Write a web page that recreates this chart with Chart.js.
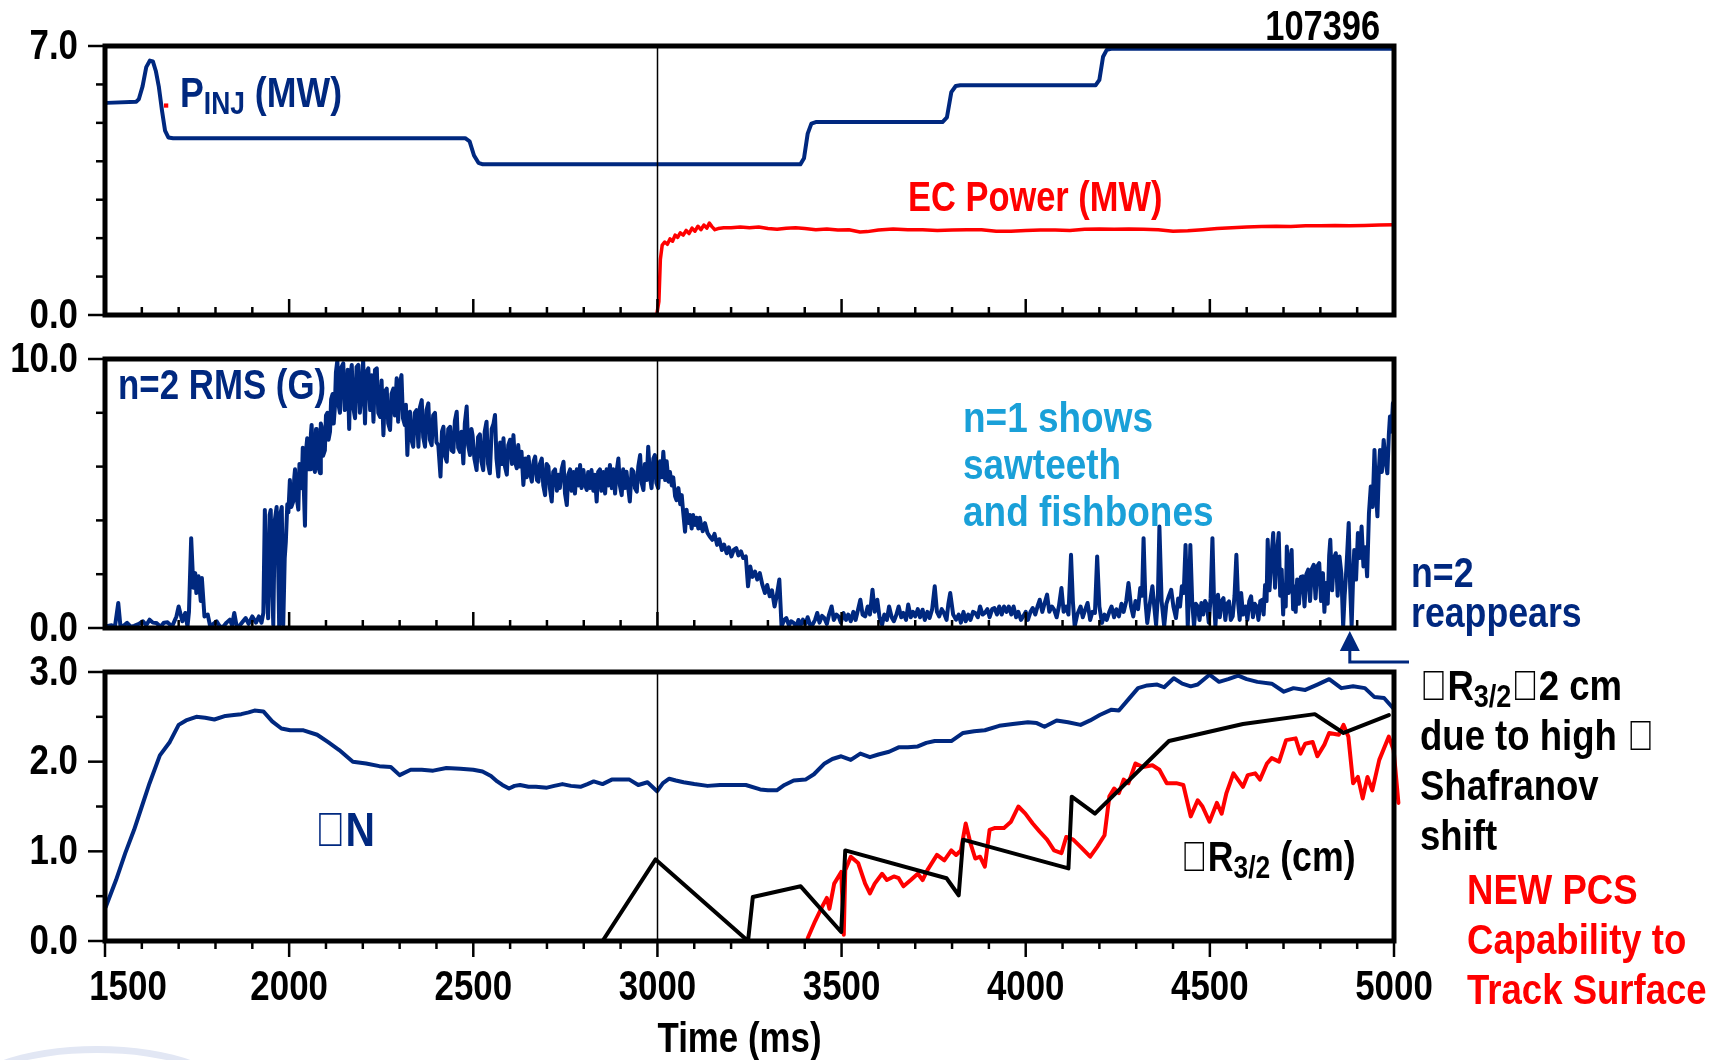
<!DOCTYPE html>
<html>
<head>
<meta charset="utf-8">
<title>107396</title>
<script src="https://cdn.jsdelivr.net/npm/chart.js"></script>
<style>
  body { margin: 0; background: #fff; }
  #wrap { position: relative; width: 1727px; height: 1060px; overflow: hidden; background: #fff; }
  #wrap canvas { position: absolute; left: 0; top: 0; }
  .note {
    position: absolute;
    font: bold 42px 'Liberation Sans', Arial, sans-serif;
    line-height: 42px;
    white-space: nowrap;
    transform: scaleX(0.85);
    transform-origin: left top;
  }
  .note sub { font-size: 0.74em; vertical-align: -0.24em; line-height: 0; }
  .navy { color: #00287f; }
  .red { color: #ff0000; }
  .cyan { color: #1aa0d8; }
  .swoosh {
    position: absolute; left: -40px; top: 1046px; width: 260px; height: 90px;
    border: 7px solid #e2e7f4; border-radius: 50%;
  }
</style>
</head>
<body>
<div id="wrap">
  <canvas id="pinjChart" width="1727" height="1060"></canvas>
  <canvas id="rmsChart" width="1727" height="1060"></canvas>
  <canvas id="betaChart" width="1727" height="1060"></canvas>
  <div class="swoosh"></div>

  <div class="note" style="right:347px;top:5px;transform-origin:right top;transform:scaleX(0.82)">107396</div>
  <div class="note navy" style="left:180px;top:72px">P<sub>INJ</sub> (MW)</div>
  <div class="note red" style="left:908px;top:176px;transform:scaleX(0.82)">EC Power (MW)</div>

  <div class="note navy" style="left:118px;top:364px;transform:scaleX(0.83)">n=2 RMS (G)</div>
  <div class="note cyan" style="left:963px;top:394px;line-height:47px;transform:scaleX(0.88)">n=1 shows<br>sawteeth<br>and fishbones</div>
  <div class="note navy" style="left:1411px;top:553px;line-height:40px">n=2<br>reappears</div>

  <div class="note navy" style="left:315px;top:806px;font-size:48px;line-height:48px">&#xF062;N</div>
  <div class="note" style="left:1181px;top:836px">&#xF044;R<sub>3/2</sub> (cm)</div>
  <div class="note" style="left:1420px;top:661px;line-height:50px;transform:scaleX(0.87)">&#xF044;R<sub>3/2</sub>&#xF0BB;2 cm<br>due to high &#xF062;<br>Shafranov<br>shift</div>
  <div class="note red" style="left:1467px;top:865px;line-height:50px;transform:scaleX(0.87)">NEW PCS<br>Capability to<br>Track Surface</div>
</div>

<script>
const FONT = "'Liberation Sans', Arial, sans-serif";
const NAVY = '#00287f';
const RED = '#ff0000';
const SQUEEZE = 0.83;

// axis tick labels
const timeTicks = [1500, 2000, 2500, 3000, 3500, 4000, 4500, 5000];
const pinjTicks = [0, 7];
const rmsTicks = [0, 10];
const betaTicks = [0, 1, 2, 3];

// time (ms), value pairs for each trace

// neutral beam injected power (MW)
const pinj = [
  [1500, 5.50], [1505, 5.52], [1585, 5.55], [1592, 5.62], [1602, 5.95], [1612, 6.45], [1622, 6.62],
  [1630, 6.60], [1638, 6.35], [1646, 5.95], [1655, 5.30], [1663, 4.80], [1672, 4.62], [1685, 4.60],
  [2478, 4.60], [2490, 4.52], [2502, 4.15], [2514, 3.96], [2526, 3.92],
  [3388, 3.92], [3398, 4.08], [3408, 4.72], [3418, 4.98], [3430, 5.02],
  [3774, 5.02], [3786, 5.14], [3798, 5.80], [3810, 5.96], [3822, 5.98],
  [4190, 5.98], [4200, 6.12], [4210, 6.72], [4220, 6.90], [4232, 6.93], [5000, 6.93]
];

// electron cyclotron power (MW)
const ecPower = [
  [1500, 0], [2998, 0], [3004, 0.35], [3008, 1.45], [3013, 1.82], [3020, 1.90], [3027, 1.84],
  [3034, 1.98], [3041, 1.92], [3048, 2.08], [3055, 2.02], [3062, 2.14], [3070, 2.08], [3078, 2.20],
  [3086, 2.12], [3094, 2.26], [3102, 2.18], [3110, 2.31], [3118, 2.22], [3126, 2.34], [3134, 2.26],
  [3141, 2.39], [3148, 2.30], [3156, 2.22], [3165, 2.25], [3180, 2.27], [3200, 2.27], [3225, 2.29],
  [3250, 2.27], [3275, 2.29], [3300, 2.25], [3325, 2.23], [3350, 2.26], [3375, 2.27], [3400, 2.25],
  [3430, 2.22], [3460, 2.24], [3490, 2.21], [3520, 2.22], [3550, 2.16], [3570, 2.17], [3600, 2.21],
  [3640, 2.24], [3680, 2.22], [3720, 2.22], [3760, 2.20], [3800, 2.21], [3840, 2.22], [3880, 2.22],
  [3920, 2.18], [3960, 2.18], [4000, 2.20], [4040, 2.21], [4080, 2.21], [4120, 2.20], [4160, 2.23],
  [4200, 2.24], [4240, 2.23], [4280, 2.24], [4320, 2.23], [4360, 2.22], [4400, 2.18], [4440, 2.19],
  [4480, 2.22], [4520, 2.25], [4560, 2.27], [4600, 2.29], [4640, 2.30], [4680, 2.31], [4720, 2.30],
  [4760, 2.32], [4800, 2.32], [4840, 2.33], [4880, 2.32], [4920, 2.33], [4960, 2.34], [5000, 2.35]
];
const ecStray = [[1666, 5.45]];

// n=2 RMS amplitude (G)
const n2Rms = [
  [1500, 0.05], [1518, 0.10], [1527, 0.05], [1536, 0.93], [1542, 0.05], [1552, 0.10], [1560, 0.19],
  [1570, 0.05], [1579, 0.08], [1592, 0.15], [1603, 0.25], [1612, 0.10], [1621, 0.31], [1630, 0.20],
  [1639, 0.19], [1651, 0.05], [1660, 0.20], [1670, 0.21], [1682, 0.05], [1694, 0.43], [1700, 0.80],
  [1710, 0.25], [1718, 0.56], [1724, 0.05], [1728, 0.60], [1734, 3.34], [1740, 1.50], [1745, 2.04],
  [1748, 1.30], [1754, 1.92], [1760, 1.00], [1763, 1.86], [1770, 0.43], [1779, 0.50], [1785, 0.10],
  [1791, 0.12], [1803, 0.25], [1812, 0.05], [1821, 0.05], [1830, 0.20], [1839, 0.31], [1845, 0.10],
  [1851, 0.56], [1857, 0.10], [1863, 0.05], [1872, 0.20], [1882, 0.37], [1890, 0.15], [1900, 0.43],
  [1910, 0.20], [1918, 0.43], [1925, 0.20], [1930, 0.56],
  // onset burst and saturated phase
  [1934, 4.39], [1938, 2.00], [1943, 0.36], [1947, 4.20], [1950, 4.39], [1954, 1.50], [1957, 0.11],
  [1961, 4.00], [1966, 4.50], [1970, 2.50], [1973, 0.00], [1977, 4.30], [1980, 4.50], [1984, 0.11],
  [1988, 2.60], [1991, 3.20], [1995, 4.60], [1998, 4.30], [2002, 5.50], [2006, 4.50], [2011, 4.70],
  [2014, 5.60], [2016, 5.90], [2020, 4.90], [2025, 4.40], [2028, 6.10], [2030, 5.90], [2034, 5.20],
  [2037, 6.70], [2040, 5.10], [2043, 3.80], [2046, 6.60], [2049, 7.05], [2053, 5.90], [2057, 5.90],
  [2059, 7.20], [2061, 7.55], [2065, 6.20], [2070, 5.80], [2073, 7.40], [2075, 7.30], [2079, 6.00],
  [2084, 5.75], [2086, 7.60], [2088, 7.50], [2092, 6.40], [2097, 6.60], [2100, 7.90], [2104, 8.00],
  [2107, 7.00], [2111, 7.30], [2114, 8.50], [2118, 8.70], [2121, 7.60], [2124, 8.17], [2127, 9.50],
  [2131, 9.96], [2134, 8.30], [2138, 8.00], [2142, 9.70], [2147, 9.84], [2151, 8.10], [2156, 8.35],
  [2159, 9.60], [2163, 7.40], [2166, 9.30], [2170, 9.78], [2174, 8.20], [2179, 7.80], [2183, 9.70],
  [2188, 9.78], [2192, 8.00], [2197, 8.80], [2201, 9.96], [2206, 7.60], [2210, 9.50], [2215, 9.65],
  [2220, 8.10], [2224, 9.40], [2229, 7.67], [2233, 9.60], [2238, 9.65], [2242, 8.00], [2247, 7.85],
  [2251, 9.20], [2256, 7.17], [2260, 8.80], [2265, 8.90], [2269, 7.60], [2274, 7.36], [2278, 8.70],
  [2283, 8.90], [2287, 7.90], [2292, 9.28], [2296, 7.67], [2300, 9.00], [2305, 9.40], [2309, 7.80],
  [2314, 7.55], [2317, 8.30], [2321, 6.43], [2325, 7.90], [2328, 8.04], [2332, 7.00], [2337, 6.74],
  [2341, 8.00], [2346, 8.10], [2351, 6.74], [2355, 8.20], [2360, 8.47], [2364, 7.10], [2369, 6.74],
  [2373, 8.10], [2378, 8.35], [2382, 7.00], [2387, 6.80], [2391, 7.90], [2396, 8.00], [2400, 6.90],
  [2405, 6.80], [2411, 5.63], [2415, 7.30], [2419, 7.48], [2423, 6.40], [2428, 6.18], [2432, 7.40],
  [2437, 7.48], [2441, 6.60], [2446, 6.55], [2450, 7.70], [2455, 8.04], [2459, 6.70], [2464, 6.55],
  [2468, 7.30], [2473, 6.12], [2477, 7.60], [2482, 8.23], [2486, 6.80], [2491, 6.43], [2495, 7.40],
  [2498, 7.17], [2503, 6.30], [2509, 5.87], [2513, 7.10], [2518, 7.20], [2522, 6.20], [2527, 5.87],
  [2531, 7.30], [2536, 7.67], [2540, 6.10], [2545, 5.75], [2550, 7.40], [2555, 7.60], [2559, 7.92],
  [2563, 6.30], [2568, 5.63], [2573, 6.90], [2578, 6.10], [2582, 7.05], [2586, 6.00], [2591, 5.70],
  [2595, 6.80], [2600, 7.00], [2605, 6.10], [2609, 7.17], [2613, 6.20], [2618, 5.94], [2622, 6.80],
  [2627, 6.00], [2631, 6.55], [2636, 5.32], [2641, 6.30], [2645, 5.60], [2650, 6.37], [2655, 5.70],
  [2659, 5.44], [2664, 6.20], [2668, 6.37], [2673, 5.50], [2677, 5.44], [2681, 6.10], [2686, 6.30],
  [2690, 5.30], [2695, 4.94], [2699, 6.10], [2704, 6.00], [2708, 5.20], [2713, 4.70], [2717, 5.80],
  [2722, 5.90], [2727, 5.10], [2731, 5.70], [2735, 5.20], [2740, 5.90], [2745, 6.18], [2749, 5.00],
  [2754, 4.57], [2758, 5.70], [2763, 5.90], [2767, 5.10], [2772, 5.80], [2776, 5.00], [2781, 5.90],
  [2786, 5.30], [2790, 6.06], [2794, 5.20], [2799, 5.87], [2804, 5.30], [2808, 5.13], [2812, 5.80],
  [2817, 5.20], [2821, 5.87], [2826, 5.10], [2830, 5.70], [2835, 4.70], [2839, 5.80], [2844, 5.90],
  [2848, 5.10], [2853, 5.80], [2858, 5.00], [2862, 5.90], [2867, 5.30], [2871, 6.06], [2876, 5.20],
  [2880, 5.90], [2885, 5.00], [2889, 5.80], [2894, 6.30], [2898, 5.30], [2903, 4.94], [2907, 5.90],
  [2912, 5.20], [2916, 5.81], [2920, 5.30], [2925, 4.70], [2930, 5.90], [2935, 5.81], [2939, 5.20],
  [2944, 5.07], [2948, 6.00], [2953, 6.43], [2957, 5.40], [2962, 5.13], [2966, 6.10], [2971, 5.50],
  [2975, 6.74], [2980, 5.60], [2984, 5.20], [2989, 6.30], [2993, 6.43], [2997, 5.40], [3002, 5.20],
  [3007, 6.20], [3012, 5.60], [3016, 6.55], [3021, 5.50], [3025, 6.20], [3030, 5.44], [3034, 5.80],
  [3039, 5.30], [3043, 5.60], [3048, 4.90], [3052, 4.75], [3057, 5.20], [3062, 4.60], [3066, 4.94],
  [3070, 4.30], [3075, 3.58], [3079, 4.40], [3084, 3.90], [3088, 4.20], [3093, 3.70], [3097, 4.20],
  [3102, 3.83], [3106, 4.10], [3111, 3.70], [3115, 4.10], [3119, 3.80], [3123, 3.60], [3129, 3.90],
  // decay once the EC heating is on
  [3136, 3.53], [3142, 3.40], [3149, 3.28], [3155, 3.50], [3162, 3.09], [3168, 3.30], [3175, 2.90],
  [3181, 3.10], [3188, 2.78], [3194, 3.00], [3201, 2.66], [3207, 2.90], [3214, 2.97], [3220, 2.70],
  [3227, 2.85], [3233, 2.60], [3240, 2.66], [3246, 1.55], [3252, 2.29], [3258, 1.90], [3265, 2.10],
  [3271, 1.80], [3278, 2.04], [3285, 1.60], [3292, 1.30], [3298, 1.60], [3305, 1.18], [3311, 1.40],
  [3318, 0.80], [3324, 1.20], [3331, 1.80],
  // suppressed phase
  [3337, 0.06], [3344, 0.30], [3350, 0.37], [3357, 0.10], [3363, 0.25], [3370, 0.19], [3377, 0.05],
  [3383, 0.30], [3389, 0.10], [3395, 0.31], [3402, 0.15], [3408, 0.40], [3415, 0.10], [3421, 0.12],
  [3428, 0.30], [3434, 0.56], [3440, 0.20], [3447, 0.45], [3453, 0.37], [3460, 0.15], [3466, 0.50],
  [3473, 0.80], [3479, 0.30], [3486, 0.50], [3492, 0.43], [3498, 0.20], [3505, 0.56], [3512, 0.30],
  [3518, 0.50], [3525, 0.25], [3532, 0.60], [3538, 0.30], [3545, 0.70], [3551, 1.05], [3557, 0.50],
  [3564, 0.43], [3571, 0.80], [3577, 0.50], [3584, 1.42], [3590, 0.60], [3597, 1.05], [3603, 0.40],
  [3610, 0.12], [3616, 0.50], [3623, 0.30], [3629, 0.80], [3636, 0.40], [3642, 0.25], [3649, 0.50],
  [3655, 0.80], [3662, 0.40], [3668, 0.56], [3675, 0.30], [3681, 0.87], [3688, 0.40], [3694, 0.60],
  [3700, 0.43], [3707, 0.70], [3713, 0.40], [3720, 0.68], [3726, 0.30], [3733, 0.60], [3739, 0.37],
  [3746, 0.70], [3753, 1.55], [3759, 0.60], [3765, 0.43], [3772, 0.70], [3778, 0.56], [3785, 0.30],
  [3790, 0.90], [3795, 1.30], [3803, 0.50], [3811, 0.31], [3818, 0.50], [3824, 0.20], [3831, 0.60],
  [3837, 0.25], [3844, 0.50], [3850, 0.30], [3857, 0.60], [3863, 0.56], [3870, 0.40], [3876, 0.80],
  [3883, 0.50], [3889, 0.56], [3896, 0.70], [3902, 0.40], [3909, 0.70], [3915, 0.74], [3922, 0.50],
  [3928, 0.80], [3935, 0.50], [3941, 0.80], [3948, 0.60], [3954, 0.80], [3961, 0.50], [3967, 0.80],
  [3974, 0.40], [3980, 0.60], [3987, 0.30], [3993, 0.43], [4000, 0.60], [4006, 0.30], [4013, 0.60],
  [4019, 0.74], [4026, 0.50], [4032, 0.80], [4038, 1.05], [4045, 0.60], [4051, 0.90], [4058, 1.24],
  [4064, 0.60], [4071, 0.80], [4077, 0.68], [4084, 0.40], [4090, 0.80], [4097, 1.49], [4103, 0.60],
  [4110, 0.80], [4116, 0.50], [4123, 2.72], [4128, 1.00], [4133, 0.06], [4140, 0.50], [4149, 0.80],
  [4155, 0.40], [4162, 0.70], [4168, 0.93], [4175, 0.30], [4181, 0.60], [4188, 0.56], [4194, 2.66],
  [4200, 0.80], [4207, 0.19], [4214, 0.50], [4220, 0.30], [4227, 0.60], [4233, 0.80], [4240, 0.40],
  [4246, 0.70], [4253, 0.43], [4260, 0.90], [4266, 0.60], [4273, 1.00], [4279, 1.67], [4286, 0.80],
  [4292, 0.43], [4298, 1.00], [4305, 0.70], [4311, 1.49], [4316, 1.20], [4320, 3.34], [4325, 1.00],
  [4330, 0.19], [4337, 0.90], [4344, 1.55], [4349, 0.80], [4354, 0.12], [4359, 1.20], [4363, 3.77],
  [4369, 1.00], [4376, 0.06], [4382, 0.90], [4389, 1.20], [4395, 1.42], [4401, 0.80], [4408, 0.37],
  [4414, 1.10], [4419, 0.80], [4424, 1.55], [4429, 1.30], [4434, 3.09], [4440, 0.06], [4444, 1.50],
  [4447, 3.09], [4452, 1.00], [4457, 0.06],
  // n=2 comes back
  [4462, 0.90], [4467, 0.80], [4472, 0.30], [4477, 0.93], [4482, 0.50], [4487, 1.00], [4492, 0.87],
  [4497, 0.20], [4502, 1.10], [4507, 3.34], [4511, 1.20], [4515, 0.06], [4519, 0.90], [4522, 1.24],
  [4527, 0.40], [4532, 1.00], [4537, 1.11], [4542, 0.30], [4547, 0.90], [4552, 0.99], [4557, 0.30],
  [4562, 0.43], [4567, 1.20], [4572, 2.72], [4577, 0.90], [4581, 0.30], [4585, 1.30], [4590, 0.50],
  [4597, 0.80], [4602, 0.30], [4607, 1.00], [4612, 1.18], [4617, 0.40], [4622, 0.90], [4627, 0.80],
  [4632, 0.30], [4637, 1.00], [4642, 1.05], [4646, 0.50], [4650, 1.60], [4654, 1.00], [4657, 3.28],
  [4662, 1.40], [4667, 2.60], [4672, 3.53], [4677, 1.50], [4682, 2.80], [4687, 3.53], [4691, 1.20],
  [4695, 2.17], [4699, 0.50], [4702, 1.55], [4706, 0.80], [4709, 3.03], [4714, 1.30], [4718, 2.50],
  [4722, 2.90], [4726, 0.70], [4729, 1.55], [4733, 0.60], [4737, 1.80], [4742, 0.90], [4747, 1.90],
  [4752, 1.92], [4757, 0.80], [4762, 2.00], [4767, 2.17], [4772, 1.00], [4777, 2.20], [4782, 2.35],
  [4787, 1.10], [4792, 2.30], [4797, 2.41], [4802, 1.00], [4807, 2.04], [4811, 0.60], [4815, 1.67],
  [4820, 0.90], [4824, 2.70], [4827, 3.28], [4832, 1.40], [4837, 2.60], [4842, 2.78], [4847, 1.20],
  [4852, 2.66], [4857, 2.04], [4862, 0.06], [4866, 1.20], [4869, 1.80], [4873, 2.80], [4877, 3.90],
  [4881, 1.50], [4885, 0.06], [4889, 1.90], [4892, 2.90], [4897, 1.80], [4902, 3.53], [4907, 2.60],
  [4912, 3.77], [4917, 2.29], [4922, 3.00], [4927, 1.92], [4932, 4.27], [4937, 5.26], [4942, 4.50],
  [4947, 6.62], [4951, 5.00], [4955, 4.15], [4959, 5.90], [4962, 6.62], [4967, 5.80], [4972, 6.99],
  [4977, 6.20], [4982, 5.75], [4986, 7.20], [4989, 7.86], [4993, 7.30], [4997, 8.35], [5000, 8.42]
];

// normalized beta
const betaN = [
  [1502, 0.38], [1530, 0.68], [1555, 0.98], [1579, 1.24], [1600, 1.50], [1621, 1.76], [1649, 2.07],
  [1676, 2.22], [1700, 2.41], [1720, 2.46], [1748, 2.50], [1772, 2.49], [1797, 2.47], [1827, 2.51],
  [1850, 2.52], [1870, 2.53], [1890, 2.55], [1906, 2.57], [1930, 2.56], [1954, 2.45], [1979, 2.37],
  [2003, 2.35], [2039, 2.35], [2076, 2.30], [2105, 2.22], [2136, 2.13], [2173, 2.00], [2209, 1.98],
  [2245, 1.95], [2276, 1.94], [2300, 1.85], [2330, 1.91], [2360, 1.91], [2391, 1.90], [2427, 1.93],
  [2465, 1.92], [2500, 1.91], [2525, 1.89], [2548, 1.84], [2565, 1.78], [2579, 1.74], [2597, 1.70],
  [2612, 1.73], [2627, 1.74], [2650, 1.72], [2670, 1.72], [2700, 1.71], [2720, 1.73], [2742, 1.75],
  [2765, 1.73], [2791, 1.72], [2810, 1.75], [2827, 1.78], [2851, 1.75], [2876, 1.80], [2900, 1.80],
  [2924, 1.80], [2948, 1.74], [2973, 1.77], [2999, 1.67], [3015, 1.76], [3032, 1.81], [3050, 1.79],
  [3071, 1.77], [3100, 1.75], [3136, 1.73], [3170, 1.74], [3200, 1.74], [3240, 1.74], [3279, 1.69],
  [3300, 1.68], [3324, 1.68], [3345, 1.74], [3370, 1.79], [3402, 1.80], [3425, 1.86], [3454, 1.98],
  [3475, 2.03], [3499, 2.06], [3525, 2.02], [3551, 2.09], [3577, 2.05], [3600, 2.08], [3629, 2.11],
  [3655, 2.16], [3680, 2.16], [3707, 2.17], [3730, 2.21], [3753, 2.23], [3798, 2.23], [3830, 2.32],
  [3860, 2.34], [3889, 2.35], [3928, 2.40], [3965, 2.42], [4006, 2.44], [4030, 2.43], [4051, 2.39],
  [4084, 2.46], [4115, 2.44], [4149, 2.41], [4175, 2.46], [4201, 2.52], [4233, 2.58], [4253, 2.57],
  [4280, 2.70], [4305, 2.82], [4330, 2.85], [4357, 2.86], [4376, 2.83], [4402, 2.93], [4425, 2.87],
  [4448, 2.84], [4467, 2.86], [4499, 2.97], [4525, 2.89], [4550, 2.92], [4577, 2.96], [4600, 2.92],
  [4629, 2.89], [4668, 2.87], [4701, 2.78], [4727, 2.82], [4759, 2.80], [4792, 2.86], [4824, 2.92],
  [4857, 2.82], [4889, 2.84], [4921, 2.82], [4947, 2.72], [4973, 2.71], [4999, 2.59]
];

// dR 3/2 from equilibrium reconstruction (cm)
const dR32 = [
  [2851, 0.00], [2995, 0.91], [3246, 0.00], [3259, 0.49], [3389, 0.61], [3499, 0.10], [3510, 1.01],
  [3785, 0.70], [3818, 0.51], [3830, 1.13], [4116, 0.81], [4125, 1.61], [4188, 1.42], [4389, 2.23],
  [4590, 2.42], [4785, 2.53], [4863, 2.32], [4986, 2.52]
];

// dR 3/2 tracked by the PCS (cm)
const dR32Pcs = [
  [3408, 0.03], [3428, 0.22], [3447, 0.38], [3460, 0.48], [3467, 0.36], [3480, 0.64], [3499, 0.77],
  [3506, 0.07], [3510, 0.79], [3525, 0.94], [3545, 0.87], [3564, 0.64], [3577, 0.53], [3590, 0.64],
  [3610, 0.75], [3623, 0.68], [3642, 0.72], [3655, 0.70], [3668, 0.61], [3688, 0.68], [3707, 0.75],
  [3720, 0.68], [3733, 0.79], [3759, 0.96], [3779, 0.90], [3798, 1.01], [3811, 0.96], [3824, 1.01],
  [3837, 1.31], [3850, 1.09], [3863, 0.92], [3876, 0.94], [3889, 0.83], [3902, 1.24], [3915, 1.26],
  [3941, 1.26], [3960, 1.33], [3980, 1.50], [3999, 1.42], [4019, 1.31], [4038, 1.22], [4058, 1.13],
  [4077, 1.01], [4097, 0.98], [4110, 1.16], [4129, 1.13], [4149, 1.05], [4175, 0.94], [4194, 1.05],
  [4214, 1.18], [4227, 1.61], [4240, 1.70], [4253, 1.65], [4266, 1.80], [4279, 1.76], [4298, 1.98],
  [4318, 1.94], [4344, 1.96], [4363, 1.91], [4383, 1.76], [4409, 1.76], [4428, 1.74], [4448, 1.39],
  [4467, 1.57], [4480, 1.50], [4499, 1.33], [4519, 1.54], [4532, 1.42], [4545, 1.65], [4564, 1.87],
  [4590, 1.72], [4603, 1.85], [4623, 1.87], [4636, 1.80], [4655, 1.98], [4668, 2.04], [4688, 2.00],
  [4707, 2.24], [4733, 2.26], [4746, 2.09], [4759, 2.20], [4779, 2.22], [4792, 2.06], [4811, 2.19],
  [4824, 2.32], [4850, 2.30], [4863, 2.41], [4876, 2.28], [4889, 1.76], [4902, 1.83], [4915, 1.59],
  [4928, 1.83], [4941, 1.68], [4960, 2.02], [4986, 2.28], [4999, 2.13], [5012, 1.54]
];

function xy(pairs) {
  return pairs.map(p => ({ x: p[0], y: p[1] }));
}

function trace(pairs, color, width, extra) {
  return Object.assign({
    data: xy(pairs),
    borderColor: color,
    backgroundColor: color,
    borderWidth: width,
    pointRadius: 0,
    fill: false
  }, extra || {});
}

// labels are squeezed sideways to get the condensed look
function squeezedText(ctx, text, x, y, align, baseline) {
  ctx.save();
  ctx.translate(x, y);
  ctx.scale(SQUEEZE, 1);
  ctx.textAlign = align;
  ctx.textBaseline = baseline;
  ctx.fillText(text, 0, 0);
  ctx.restore();
}

// box, tick marks, tick labels, the 3000 ms marker and the "reappears" arrow
const frame = {
  id: 'frame',
  afterDatasetsDraw(chart, args, opts) {
    const { ctx, chartArea: a, scales: { x, y } } = chart;
    const seg = (x1, y1, x2, y2) => {
      ctx.beginPath();
      ctx.moveTo(x1, y1);
      ctx.lineTo(x2, y2);
      ctx.stroke();
    };
    ctx.save();
    ctx.strokeStyle = '#000';
    ctx.fillStyle = '#000';

    const xm = Math.round(x.getPixelForValue(3000)) + 0.5;
    ctx.lineWidth = 1.5;
    seg(xm, a.top, xm, a.bottom);

    ctx.lineWidth = 2.5;
    const dir = opts.ticksOut ? 1 : -1;
    for (let t = 1500; t <= 5000; t += 100) {
      const px = x.getPixelForValue(t);
      const len = timeTicks.includes(t) ? 16 : 8;
      seg(px, a.bottom, px, a.bottom + dir * len);
    }

    const majors = y.ticks.map(tk => tk.value);
    for (let v = y.min; v <= y.max + 1e-9; v += opts.yStep) {
      const py = y.getPixelForValue(v);
      const len = majors.some(m => Math.abs(m - v) < 1e-6) ? 17 : 9;
      seg(a.left - len, py, a.left, py);
    }

    ctx.lineWidth = 5;
    ctx.strokeRect(a.left, a.top, a.right - a.left, a.bottom - a.top);

    ctx.font = 'bold 42px ' + FONT;
    majors.forEach(v => {
      squeezedText(ctx, v.toFixed(1), a.left - 27, y.getPixelForValue(v) + 1, 'right', 'middle');
    });

    if (opts.timeLabels) {
      timeTicks.forEach(t => {
        // the first label sits clear of the axis corner
        const shift = t === timeTicks[0] ? 23 : 0;
        squeezedText(ctx, String(t), x.getPixelForValue(t) + shift, a.bottom + 59, 'center', 'alphabetic');
      });
      squeezedText(ctx, 'Time (ms)', (a.left + a.right) / 2 - 10, a.bottom + 111, 'center', 'alphabetic');
    }

    if (opts.arrowAt) {
      const ax = x.getPixelForValue(opts.arrowAt);
      const tip = a.bottom + 3;
      ctx.strokeStyle = NAVY;
      ctx.fillStyle = NAVY;
      ctx.lineWidth = 3;
      ctx.beginPath();
      ctx.moveTo(ax, tip + 14);
      ctx.lineTo(ax, a.bottom + 34);
      ctx.lineTo(a.right + 15, a.bottom + 34);
      ctx.stroke();
      ctx.beginPath();
      ctx.moveTo(ax, tip);
      ctx.lineTo(ax - 10, tip + 20);
      ctx.lineTo(ax + 10, tip + 20);
      ctx.closePath();
      ctx.fill();
    }
    ctx.restore();
  }
};

function panel(id, cfg) {
  return new Chart(document.getElementById(id), {
    type: 'line',
    data: { datasets: cfg.datasets },
    options: {
      responsive: false,
      animation: false,
      events: [],
      layout: {
        autoPadding: false,
        padding: { top: cfg.top, right: 333, bottom: 1060 - cfg.bottom, left: 0 }
      },
      elements: { line: { tension: 0, borderJoinStyle: 'round', borderCapStyle: 'round' } },
      plugins: {
        legend: { display: false },
        tooltip: { enabled: false },
        frame: { yStep: cfg.yStep, ticksOut: !!cfg.timeLabels, timeLabels: !!cfg.timeLabels, arrowAt: cfg.arrowAt }
      },
      scales: {
        x: {
          type: 'linear',
          min: 1500,
          max: 5000,
          display: false
        },
        y: {
          min: 0,
          max: cfg.yMax,
          afterFit: s => { s.width = 105; },
          afterBuildTicks: s => { s.ticks = cfg.yTicks.map(v => ({ value: v })); },
          grid: { display: false, drawTicks: false },
          border: { display: false },
          ticks: { display: false }
        }
      }
    },
    plugins: [frame]
  });
}

panel('pinjChart', {
  top: 46, bottom: 315, yMax: 7, yStep: 1, yTicks: pinjTicks,
  datasets: [
    trace(ecPower, RED, 3.5),
    trace(pinj, NAVY, 4),
    trace(ecStray, RED, 0, { showLine: false, pointRadius: 3, pointStyle: 'rect' })
  ]
});

panel('rmsChart', {
  top: 359, bottom: 628, yMax: 10, yStep: 2, yTicks: rmsTicks, arrowAt: 4880,
  datasets: [trace(n2Rms, NAVY, 4)]
});

panel('betaChart', {
  top: 672, bottom: 941, yMax: 3, yStep: 0.5, yTicks: betaTicks, timeLabels: true,
  datasets: [
    trace(betaN, NAVY, 4),
    trace(dR32, '#000', 4),
    trace(dR32Pcs, RED, 4, { clip: false })
  ]
});
</script>
</body>
</html>
